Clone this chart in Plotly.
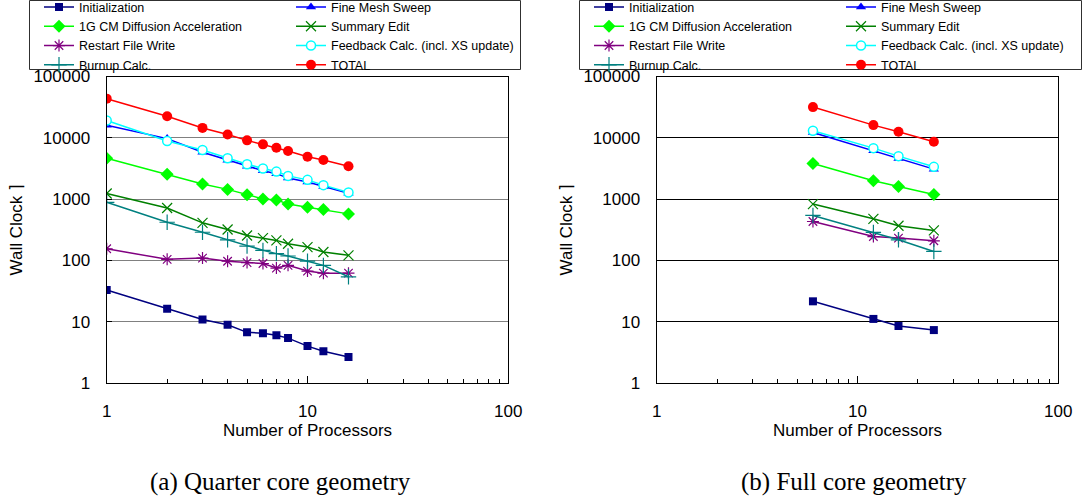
import plotly.graph_objects as go

# ---------------- data ----------------
procs_quarter = [1, 2, 3, 4, 5, 6, 7, 8, 10, 12, 16]
procs_full = [6, 12, 16, 24]

series_names = [
    "Initialization",
    "Fine Mesh Sweep",
    "1G CM Diffusion Acceleration",
    "Summary Edit",
    "Restart File Write",
    "Feedback Calc. (incl. XS update)",
    "Burnup Calc.",
    "TOTAL",
]

# (a) Quarter core geometry
init_quarter = [33, 16.2, 10.9, 8.9, 6.7, 6.5, 6.0, 5.4, 4.0, 3.3, 2.65]
fine_quarter = [16000, 9700, 5800, 4300, 3450, 2900, 2600, 2200, 1900, 1600, 1250]
cmfd_quarter = [4640, 2550, 1760, 1440, 1180, 1005, 970, 833, 735, 674, 574]
summary_quarter = [1235, 717, 410, 319, 255, 231, 212, 187, 165, 137, 121]
restart_quarter = [155, 104, 109, 97, 92, 89, 75, 83, 67, 62, 62]
feedback_quarter = [19150, 8850, 6320, 4640, 3710, 3150, 2810, 2390, 2060, 1690, 1285]
burnup_quarter = [886, 419, 288, 217, 171, 146, 129, 118, 97, 83, 54]
total_quarter = [43500, 22500, 14500, 11350, 9080, 7820, 6890, 6090, 4920, 4350, 3440]

# (b) Full core geometry
init_full = [21.5, 11.1, 8.5, 7.3]
fine_full = [12200, 6140, 4590, 3080]
cmfd_full = [3810, 1990, 1600, 1190]
summary_full = [829, 477, 367, 308]
restart_full = [431, 245, 231, 209]
feedback_full = [13000, 6780, 5020, 3360]
burnup_full = [541, 286, 217, 140]
total_full = [31700, 16100, 12550, 8600]

y_tick_values = [1, 10, 100, 1000, 10000, 100000]
y_tick_labels = ["1", "10", "100", "1000", "10000", "100000"]
x_tick_values = [1, 10, 100]
x_tick_labels = ["1", "10", "100"]

captions = ["(a) Quarter core geometry", "(b) Full core geometry"]
x_title = "Number of Processors"
y_title = "Wall Clock \u2309"

quarter_data = [init_quarter, fine_quarter, cmfd_quarter, summary_quarter,
                restart_quarter, feedback_quarter, burnup_quarter, total_quarter]
full_data = [init_full, fine_full, cmfd_full, summary_full,
             restart_full, feedback_full, burnup_full, total_full]

# ---------------- styles ----------------
styles = {
    "Initialization": dict(color="#000080", symbol="square", size=8, fill="#000080", lw=0),
    "Fine Mesh Sweep": dict(color="#0000FF", symbol="triangle-up", size=9, fill="#0000FF", lw=0),
    "1G CM Diffusion Acceleration": dict(color="#00FF00", symbol="diamond", size=10, fill="#00FF00", lw=0),
    "Summary Edit": dict(color="#008000", symbol="x-thin-open", size=10, fill="#008000", lw=1.2),
    "Restart File Write": dict(color="#800080", symbol="asterisk-open", size=10, fill="#800080", lw=1.2),
    "Feedback Calc. (incl. XS update)": dict(color="#00FFFF", symbol="circle", size=9, fill="#FFFFFF", lw=1.5),
    "Burnup Calc.": dict(color="#008080", symbol="cross-thin-open", size=11, fill="#008080", lw=1.2),
    "TOTAL": dict(color="#FF0000", symbol="circle", size=10, fill="#FF0000", lw=0),
}

W, H = 1082, 500
FONT = "Liberation Sans, Arial, sans-serif"


def px(x):
    return x / W


def py(y):
    return 1 - y / H


fig = go.Figure()

panels = [
    (procs_quarter, quarter_data, "x", "y", ("legend", "legend2")),
    (procs_full, full_data, "x2", "y2", ("legend3", "legend4")),
]

for procs, data, xa, ya, legs in panels:
    for i, (name, vals) in enumerate(zip(series_names, data)):
        st = styles[name]
        marker = dict(symbol=st["symbol"], size=st["size"], color=st["fill"],
                      line=dict(color=st["color"], width=st["lw"]))
        fig.add_trace(go.Scatter(
            x=procs, y=vals, name=name, mode="lines+markers",
            line=dict(color=st["color"], width=1.5),
            marker=marker, xaxis=xa, yaxis=ya,
            legend=legs[i % 2], showlegend=True,
        ))

axis_font = dict(family=FONT, size=17, color="black")

common_x = dict(
    type="log", range=[0, 2], tickvals=x_tick_values, ticktext=x_tick_labels,
    ticks="inside", ticklen=7, tickcolor="black", tickwidth=1,
    minor=dict(ticks="inside", ticklen=4, tickcolor="black", dtick="D1", showgrid=False),
    showline=True, linecolor="black", linewidth=1.3, mirror=True,
    showgrid=False, zeroline=False, tickfont=axis_font,
    ticklabelstandoff=12,
    title=dict(text=x_title, font=axis_font, standoff=0),
)
common_y = dict(
    type="log", range=[0, 5], tickvals=y_tick_values, ticktext=y_tick_labels,
    ticks="inside", ticklen=5, tickcolor="black",
    showline=True, linecolor="black", linewidth=1.3, mirror=True,
    showgrid=True, gridwidth=1.3, zeroline=False, tickfont=axis_font,
    ticklabelstandoff=12,
    title=dict(text=y_title, font=axis_font, standoff=6),
)

legend_common = dict(
    orientation="v", xanchor="left", yanchor="top",
    bgcolor="rgba(0,0,0,0)", borderwidth=0,
    font=dict(family=FONT, size=12.5, color="black"),
    tracegroupgap=0, itemwidth=30,
)
LEG_TOP = -7.6

fig.update_layout(
    width=W, height=H,
    margin=dict(l=0, r=0, t=0, b=0, autoexpand=False),
    paper_bgcolor="white", plot_bgcolor="white",
    font=dict(family=FONT, color="black"),
    xaxis=dict(domain=[px(106.7), px(508.3)], anchor="y", **common_x),
    yaxis=dict(domain=[py(383), py(76.5)], anchor="x", gridcolor="#808080", **common_y),
    xaxis2=dict(domain=[px(656.7), px(1058.3)], anchor="y2", **common_x),
    yaxis2=dict(domain=[py(383), py(76.5)], anchor="x2", gridcolor="#000000", **common_y),
    legend=dict(x=px(39), y=py(LEG_TOP), **legend_common),
    legend2=dict(x=px(291), y=py(LEG_TOP), **legend_common),
    legend3=dict(x=px(589), y=py(LEG_TOP), **legend_common),
    legend4=dict(x=px(841), y=py(LEG_TOP), **legend_common),
    showlegend=True,
)

# legend frames
for x0, x1 in [(29.5, 520.5), (579.5, 1081.5)]:
    fig.add_shape(type="rect", xref="paper", yref="paper",
                  x0=px(x0), x1=px(x1), y0=py(69.5), y1=py(0.5),
                  line=dict(color="#303030", width=1), fillcolor="rgba(0,0,0,0)", layer="below")

# captions
for cap, cx in zip(captions, [280, 854]):
    fig.add_annotation(text=cap, xref="paper", yref="paper", x=px(cx), y=py(482),
                       xanchor="center", yanchor="middle", showarrow=False,
                       font=dict(family="Liberation Serif, Times New Roman, serif", size=25, color="black"))

fig.write_html(
    "out.html",
    config={"displayModeBar": False},
    post_script="document.body.style.margin='0';document.body.style.padding='0';"
                "document.body.style.overflow='hidden';",
)
